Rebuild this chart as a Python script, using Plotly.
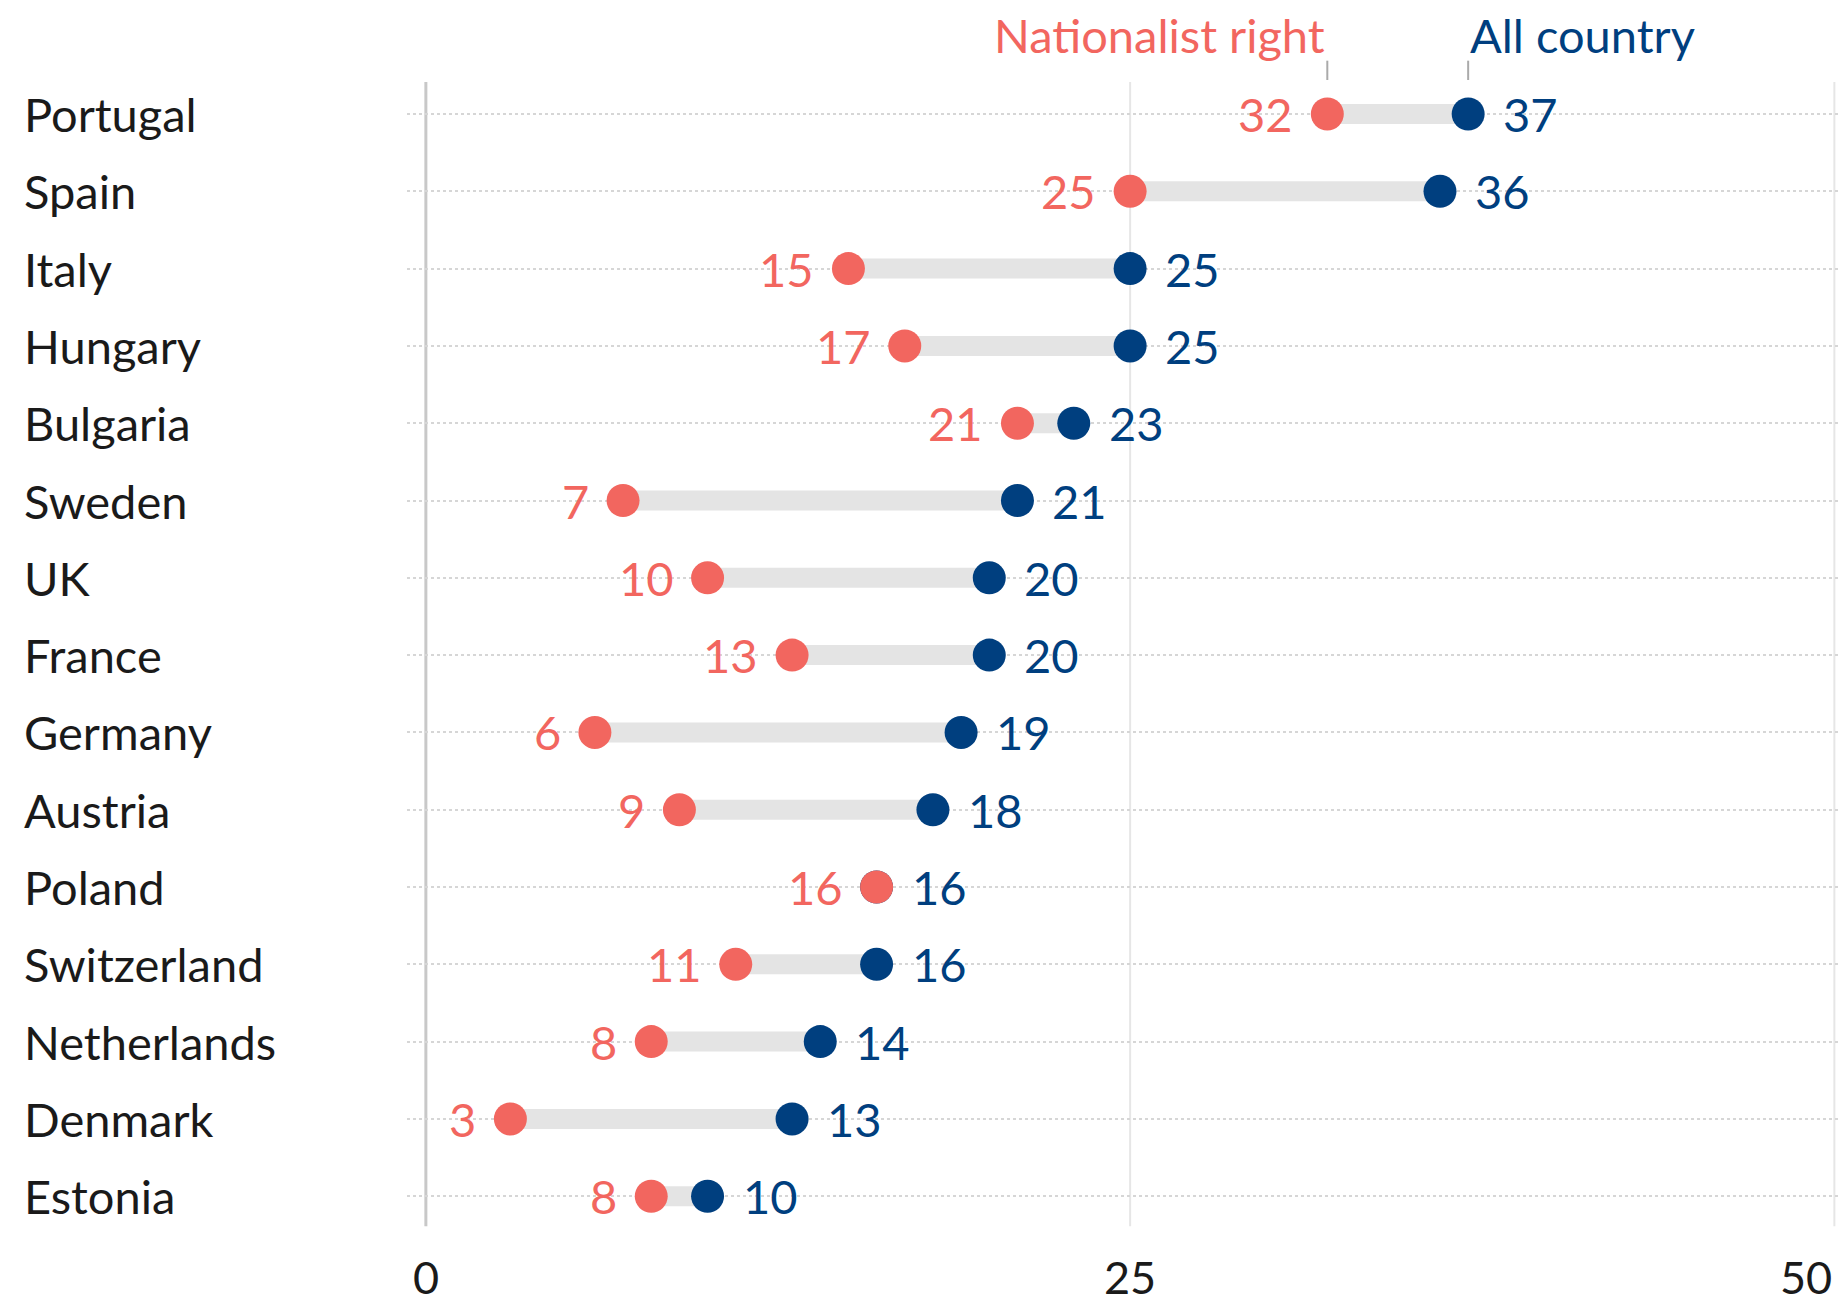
import plotly.graph_objects as go

countries = ["Portugal", "Spain", "Italy", "Hungary", "Bulgaria", "Sweden", "UK", "France",
             "Germany", "Austria", "Poland", "Switzerland", "Netherlands", "Denmark", "Estonia"]
nationalist_right = [32, 25, 15, 17, 21, 7, 10, 13, 6, 9, 16, 11, 8, 3, 8]
all_country = [37, 36, 25, 25, 23, 21, 20, 20, 19, 18, 16, 16, 14, 13, 10]
x_ticks = [0, 25, 50]

RED = "#f2665f"
BLUE = "#003f7f"
BAR = "#e4e4e4"
TEXT = "#1a1a1a"
FONT = "Lato"
FS = 47

fig = go.Figure()

# connecting bars
bx, by = [], []
for c, a, b in zip(countries, nationalist_right, all_country):
    bx += [a, b, None]
    by += [c, c, None]
fig.add_trace(go.Scatter(x=bx, y=by, mode="lines", line=dict(color=BAR, width=20),
                         hoverinfo="skip", showlegend=False))

fig.add_trace(go.Scatter(x=all_country, y=countries, mode="markers",
                         marker=dict(color=BLUE, size=33, line=dict(width=0)),
                         name="All country", showlegend=False))
fig.add_trace(go.Scatter(x=nationalist_right, y=countries, mode="markers",
                         marker=dict(color=RED, size=33, line=dict(width=0)),
                         name="Nationalist right", showlegend=False))

annotations = []
for c, a, b in zip(countries, nationalist_right, all_country):
    annotations.append(dict(x=a, y=c, xref="x", yref="y", text=str(a), showarrow=False,
                            xanchor="right", yanchor="middle", xshift=-32,
                            font=dict(family=FONT, size=FS, color=RED)))
    annotations.append(dict(x=b, y=c, xref="x", yref="y", text=str(b), showarrow=False,
                            xanchor="left", yanchor="middle", xshift=33,
                            font=dict(family=FONT, size=FS, color=BLUE)))
    annotations.append(dict(x=-0.2685, y=c, xref="paper", yref="y", text=c, showarrow=False,
                            xanchor="left", yanchor="middle",
                            font=dict(family=FONT, size=FS, color=TEXT)))

# header labels
annotations.append(dict(x=nationalist_right[0], y=-1.02, xref="x", yref="y",
                        text="Nationalist right", showarrow=False, xanchor="right",
                        yanchor="middle", font=dict(family=FONT, size=FS, color=RED)))
annotations.append(dict(x=all_country[0], y=-1.02, xref="x", yref="y",
                        text="All country", showarrow=False, xanchor="left",
                        yanchor="middle", font=dict(family=FONT, size=FS, color=BLUE)))

# x tick labels
for v in x_ticks:
    anchor = "right" if v == x_ticks[-1] else "center"
    annotations.append(dict(x=v, y=15.05, xref="x", yref="y", text=str(v), showarrow=False,
                            xanchor=anchor, yanchor="middle",
                            font=dict(family=FONT, size=45, color=TEXT)))

shapes = []
for v in x_ticks:
    shapes.append(dict(type="line", xref="x", yref="y", x0=v, x1=v, y0=-0.414, y1=14.388,
                       line=dict(color="#c8c8c8" if v == 0 else "#e6e6e6",
                                 width=3 if v == 0 else 2), layer="below"))
for v in (nationalist_right[0], all_country[0]):
    shapes.append(dict(type="line", xref="x", yref="y", x0=v, x1=v, y0=-0.69, y1=-0.44,
                       line=dict(color="#aaaaaa", width=2), layer="below"))

fig.update_layout(
    width=1840, height=1308,
    margin=dict(l=407, r=0, t=0, b=0),
    paper_bgcolor="white", plot_bgcolor="white",
    annotations=annotations, shapes=shapes,
    xaxis=dict(range=[-0.67, 50.2], showgrid=False, zeroline=False, showticklabels=False,
               showline=False, fixedrange=True),
    yaxis=dict(type="category", categoryorder="array", categoryarray=countries,
               range=[15.446, -1.475], showgrid=True, gridcolor="#d6d6d6", gridwidth=2,
               griddash="dot", zeroline=False, showticklabels=False, showline=False,
               fixedrange=True),
    showlegend=False,
)

fig.write_html(
    "out.html",
    config={"displayModeBar": False},
    post_script="document.body.style.margin='0';document.body.style.overflow='hidden';",
)
